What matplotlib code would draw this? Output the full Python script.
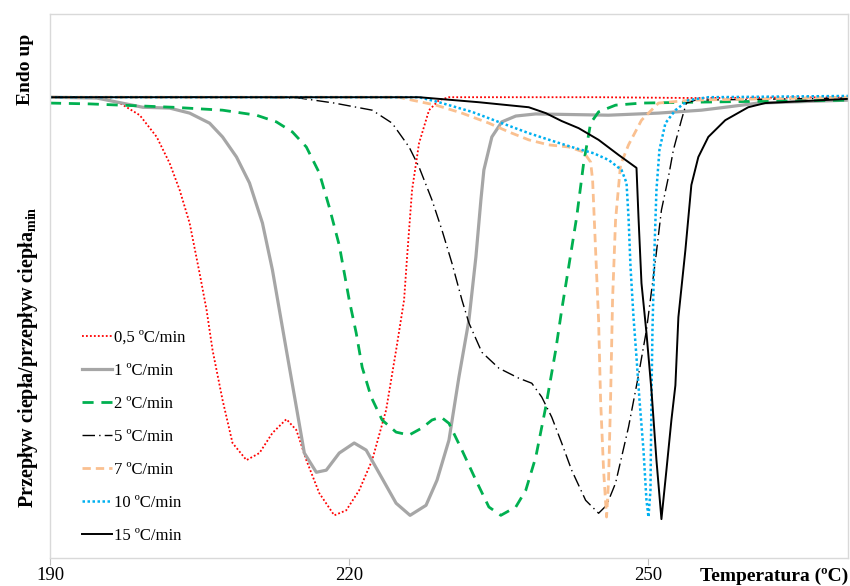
import numpy as np
import matplotlib.pyplot as plt

plt.rcParams['font.family'] = 'Liberation Serif'
plt.rcParams['mathtext.fontset'] = 'custom'
plt.rcParams['mathtext.rm'] = 'Liberation Serif:bold'

###########################################
# krzywe DSC, przepływ ciepła znormalizowany
###########################################

T_05 = [190, 195, 197, 199, 200.7, 202, 203, 204, 205, 205.7, 206.3, 207.3, 208.3, 209.7,
        211, 212.3, 213.7, 214.7, 215.7, 217, 218.5, 219.7, 221, 222.3, 223.7, 224.7,
        225.5, 225.8, 226.3, 227, 228, 229, 230, 245, 255, 270]
q_05 = [0.002, 0.002, -0.012, -0.041, -0.093, -0.156, -0.220, -0.299, -0.419, -0.507,
        -0.603, -0.722, -0.825, -0.866, -0.849, -0.801, -0.768, -0.794, -0.866, -0.945,
        -0.998, -0.986, -0.938, -0.866, -0.746, -0.603, -0.483, -0.380, -0.220, -0.108,
        -0.029, -0.005, 0.002, 0.002, 0.0, 0.002]

T_1 = [190, 194.7, 199.3, 202, 204, 206, 207.3, 208.7, 210, 211.3, 212.3, 213, 213.7,
       214.7, 215.5, 216.7, 217.7, 219, 220.5, 221.7, 223, 224.7, 226.1, 227.7, 228.8,
       230, 231, 232, 232.7, 233.2, 233.5, 234.3, 235.3, 236.7, 238.7, 246, 251, 255.3,
       257.7, 261, 270]
q_1 = [0.002, 0.0, -0.022, -0.024, -0.036, -0.060, -0.093, -0.141, -0.203, -0.299,
       -0.411, -0.507, -0.603, -0.739, -0.849, -0.895, -0.890, -0.849, -0.825, -0.842,
       -0.897, -0.969, -0.998, -0.974, -0.914, -0.818, -0.667, -0.531, -0.380, -0.244,
       -0.172, -0.093, -0.057, -0.043, -0.038, -0.041, -0.036, -0.029, -0.022, -0.012,
       -0.005]

T_2 = [190, 194, 202.3, 207.3, 210.7, 212.7, 214.3, 215.7, 217, 218, 219, 220, 220.7,
       221.3, 222.2, 223.3, 224.7, 226, 227.3, 228.3, 229.2, 230, 231.3, 232.7, 234,
       235.2, 236.7, 237.7, 238.7, 239.7, 240.7, 241.3, 242, 242.8, 243.5, 244.2, 245,
       246.7, 249.3, 254.3, 270]
q_2 = [-0.012, -0.014, -0.022, -0.029, -0.041, -0.057, -0.081, -0.117, -0.179, -0.261,
       -0.352, -0.483, -0.562, -0.644, -0.715, -0.770, -0.799, -0.806, -0.789, -0.770,
       -0.763, -0.778, -0.842, -0.914, -0.978, -0.998, -0.978, -0.938, -0.859, -0.739,
       -0.603, -0.507, -0.404, -0.285, -0.156, -0.060, -0.033, -0.017, -0.012, -0.010,
       -0.005]

T_5 = [190, 210, 215, 218.5, 222.3, 224.3, 226, 227, 228.3, 229.3, 230.3, 231.3, 232,
       233.3, 235, 237, 238.3, 239.3, 240.3, 241.3, 242.3, 243.7, 245, 245.8, 246.7,
       248, 249, 249.8, 250.7, 251.3, 252, 252.5, 253.3, 253.8, 254.7, 270]
q_5 = [0.002, 0.002, 0.0, -0.012, -0.029, -0.060, -0.117, -0.165, -0.244, -0.316,
       -0.395, -0.483, -0.538, -0.608, -0.646, -0.670, -0.682, -0.715, -0.763, -0.825,
       -0.890, -0.962, -0.993, -0.974, -0.921, -0.787, -0.663, -0.555, -0.388, -0.268,
       -0.189, -0.124, -0.053, -0.012, -0.005, 0.0]

T_7 = [190, 225, 226.3, 228.7, 231.3, 234, 236, 238, 240, 242, 243.5, 244.2, 244.4,
       244.7, 245, 245.2, 245.5, 245.8, 246, 246.2, 246.4, 246.7, 247.2, 248, 249.3,
       251, 254.3, 270]
q_7 = [0.002, 0.002, -0.005, -0.017, -0.036, -0.060, -0.081, -0.100, -0.112, -0.117,
       -0.129, -0.153, -0.196, -0.364, -0.531, -0.722, -0.890, -1.002, -0.914, -0.722,
       -0.483, -0.292, -0.160, -0.112, -0.053, -0.012, -0.005, 0.002]

T_10 = [190, 227, 229, 232.3, 235.3, 238, 240.7, 242.7, 244.5, 246, 247.3, 247.8, 248,
        248.2, 248.5, 248.8, 249.1, 249.5, 249.8, 250, 250.2, 250.3, 250.4, 250.6, 250.8,
        251.1, 251.7, 252.7, 254, 256, 270]
q_10 = [0.002, 0.002, -0.010, -0.033, -0.060, -0.084, -0.105, -0.120, -0.132, -0.148,
        -0.172, -0.203, -0.285, -0.404, -0.524, -0.620, -0.722, -0.842, -0.962, -1.002,
        -0.938, -0.722, -0.555, -0.364, -0.220, -0.124, -0.060, -0.029, -0.005, 0.002,
        0.005]

T_15 = [190, 227, 228, 233, 238, 239.7, 241.3, 243, 245, 247, 248.8, 249, 249.3, 249.8,
        250.3, 250.8, 251.3, 251.8, 252.3, 252.7, 253, 253.7, 254.3, 255, 256, 257.7,
        260, 261.7, 270]
q_15 = [0.002, 0.002, 0.0, -0.010, -0.022, -0.036, -0.055, -0.072, -0.100, -0.136,
        -0.167, -0.285, -0.443, -0.562, -0.699, -0.866, -1.007, -0.890, -0.770, -0.687,
        -0.524, -0.364, -0.208, -0.141, -0.093, -0.053, -0.022, -0.012, -0.002]

etykiety = ["0,5 ºC/min", "1 ºC/min", "2 ºC/min", "5 ºC/min", "7 ºC/min", "10 ºC/min", "15 ºC/min"]

#############################
# wykres
#############################

fig = plt.figure(figsize=(8.5, 5.86), dpi=100)
ax = fig.add_axes([0.0588, 0.0478, 0.9388, 0.9283])

ax.plot(T_05, q_05, color='#ff0000', lw=1.3, ls=(0, (1, 1.2)), label=etykiety[0])
ax.plot(T_1, q_1, color='#a6a6a6', lw=2.3, label=etykiety[1])
ax.plot(T_2, q_2, color='#00b050', lw=2.0, ls=(0, (4, 2.8)), label=etykiety[2])
ax.plot(T_5, q_5, color='black', lw=1.0, ls=(0, (9, 3, 1, 3)), label=etykiety[3])
ax.plot(T_7, q_7, color='#fac090', lw=2.0, ls=(0, (3, 1.8)), label=etykiety[4])
ax.plot(T_10, q_10, color='#00b0f0', lw=1.8, ls=(0, (1, 1)), label=etykiety[5])
ax.plot(T_15, q_15, color='black', lw=1.4, label=etykiety[6])

ax.set_xlim(190, 270)
ax.set_ylim(-1.100, 0.201)
ax.set_xticks([190, 220, 250])
ax.set_yticks([])
ax.tick_params(axis='x', labelsize=13.5, length=5, color='#bfbfbf', pad=1.5)
for s in ax.spines.values():
    s.set_color('#d9d9d9')
    s.set_linewidth(1.0)

ax.text(1.0, -0.018, "Temperatura (ºC)", transform=ax.transAxes, ha='right', va='top',
        fontsize=14, fontweight='bold')
fig.text(0.030, 0.881, "Endo up", rotation=90, ha='center', va='center',
         fontsize=14, fontweight='bold')
fig.text(0.033, 0.390, "Przepływ ciepła/przepływ ciepła$_{\\mathrm{min}}$", rotation=90,
         ha='center', va='center', fontsize=14.5, fontweight='bold')

ax.legend(loc='upper left', bbox_to_anchor=(0.040, 0.419), frameon=False, fontsize=12,
          handlelength=1.8, handletextpad=0.1, labelspacing=1.02, borderpad=0,
          borderaxespad=0)

plt.savefig("out.png", dpi=100)
